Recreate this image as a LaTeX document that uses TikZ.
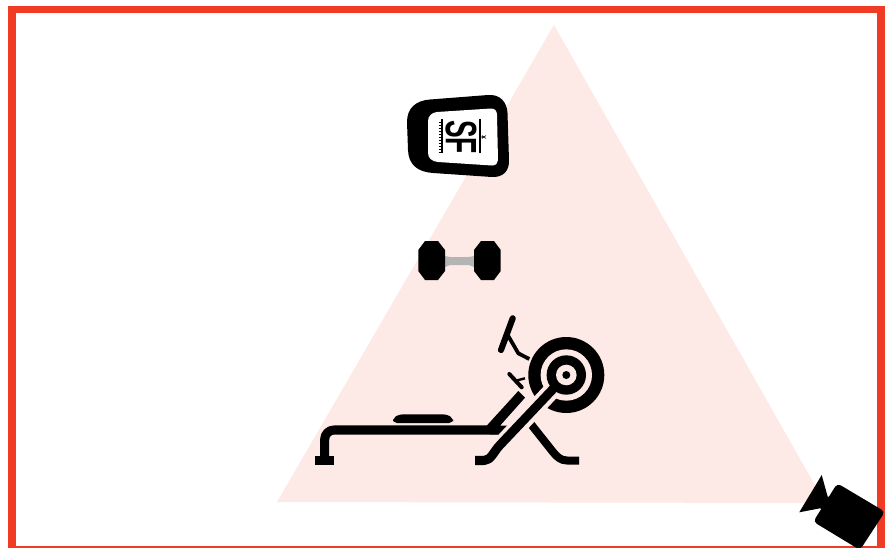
\documentclass[tikz,border=0pt]{standalone}
\usepackage{fontspec}
\setmainfont{Liberation Sans}
\definecolor{frameRed}{HTML}{F03B25}
\definecolor{conePink}{HTML}{FDE9E5}
\definecolor{barGray}{HTML}{B4B4B4}
\tikzset{
  bar/.style={draw=black,line cap=butt,line join=round},
  gap/.style={draw=conePink,line cap=butt,line join=round}
}
\begin{document}
\begin{tikzpicture}[x=0.75pt,y=-0.75pt]
\clip (0,0) rectangle (890,547);
\fill[white] (0,0) rectangle (890,547);
% frame
\draw[frameRed,line width=5.5pt] (12,9.6) rectangle (881,550);
% field of view
\fill[conePink] (554,25) -- (825,503) -- (277,502) -- cycle;
% display
\fill[black] (430,99.5) -- (488,95) .. controls (500,94) and (507,102) .. (507.5,113) -- (509,160) .. controls (509.5,171) and (503,177.5) .. (492,177) -- (433,173) .. controls (418,172) and (408.5,165) .. (408,150) -- (407,122) .. controls (407,108) and (416,100.5) .. (430,99.5) -- cycle;
\fill[white] (437,112) -- (491,108.5) .. controls (495,108.5) and (497,111) .. (497,115) -- (498,160) .. controls (498,163) and (496,165.5) .. (492,165.5) -- (438,162) .. controls (432,161.5) and (428,158) .. (428,153) -- (428,121) .. controls (428,116) and (432,112.5) .. (437,112) -- cycle;
\node[inner sep=0pt,rotate=-90,font=\fontsize{33pt}{33pt}\selectfont\bfseries] (sf) at (461,137) {\scalebox{0.6}[1]{SF}};
\draw[line width=1.2pt] (441.7,119) -- (441.7,153);
\draw[line width=1.2pt] (480,119) -- (480,153);
\foreach \t in {0,...,10}{\draw[line width=0.35pt] (438.5,122+3*\t) -- (441.7,122+3*\t);}
\draw[line width=0.4pt] (482,135.5) -- (486,138.5) (482,138.5) -- (486,135.5) (481,137) -- (484,137);
% dumbbell
\fill[barGray] (445,256) -- (450,257) -- (469,257) -- (474,256) -- (474,267) -- (469,265) -- (450,265) -- (445,267) -- cycle;
\fill[black] (425,241) -- (438,241) -- (445,250) -- (445,271) -- (438,280) -- (425,280) -- (418.3,271) -- (418.3,250) -- cycle;
\fill[black] (481,241) -- (494,241) -- (500.7,250) -- (500.7,271) -- (494,280) -- (481,280) -- (474,271) -- (474,250) -- cycle;
% rower: flywheel
\fill[black] (566.3,375) circle[radius=38];
\fill[conePink] (566.3,375) circle[radius=25.7];
% rower: seat, rail, strut
\fill[black,rounded corners=3pt] (393,423) -- (393,418) -- (399,414.3) -- (447,414.3) -- (453,418) -- (453,423) -- cycle;
\fill[black] (315,456) rectangle (334.3,465);
\draw[bar,line width=6.8pt,rounded corners=7pt] (324.7,458) -- (324.7,430) -- (500,430);
\fill[black] (486.7,425.7) -- (518.3,391) -- (525,397.7) -- (500,425.7) -- (511.7,425.7) -- (503.3,434.3) -- (490,434.3) -- cycle;
% rower: back leg
\draw[bar,line width=6pt] (530,423) -- (553,452) .. controls (557,457) and (561,460.5) .. (567,460.5) -- (579,460.5);
% rower: inner ring and front arm
\draw[gap,line width=13pt] (566.3,375) -- (498,448);
\fill[conePink] (566.3,375) circle[radius=22];
\fill[black] (566.3,375) circle[radius=19.7];
\draw[bar,line width=6.8pt] (566.3,375) -- (500,445) .. controls (494,451) and (491,460.5) .. (484,460.5) -- (475,460.5);
\fill[conePink] (566.3,375) circle[radius=10.3];
\fill[black] (566.3,375) circle[radius=4];
% rower: handles
\draw[black,line width=4.6pt,line cap=round] (512.7,318.3) -- (501,350);
\draw[bar,line width=2.8pt] (508.3,336) -- (518.3,353.3) -- (529.3,359);
\draw[black,line width=3pt,line cap=round] (509.3,374) -- (521.7,387.3);
\draw[bar,line width=1.8pt] (516.7,380.5) -- (525,378.3);
% camera
\fill[black,rounded corners=3pt] (837.3,483.3) -- (885,511.7) -- (860,550) -- (813.3,521.7) -- cycle;
\fill[black] (821.7,475) -- (827.7,496.7) -- (832,497) -- (824,510) -- (820,508.3) -- (799.3,512.3) -- cycle;
\end{tikzpicture}
\end{document}
